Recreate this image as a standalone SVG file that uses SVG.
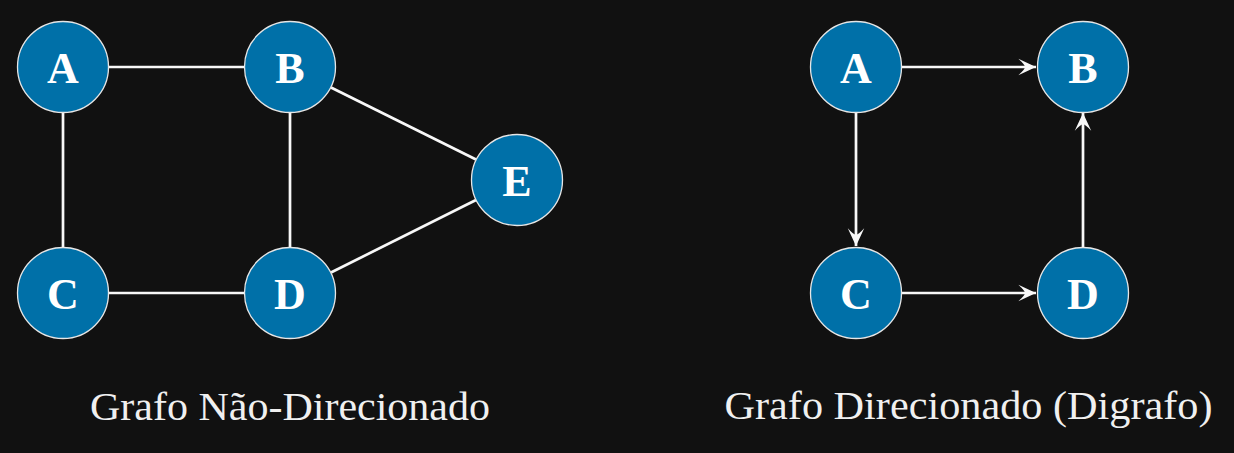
<svg xmlns="http://www.w3.org/2000/svg" width="1234" height="453" viewBox="0 0 1234 453">
<style>
.bg{fill:#111111}
.node circle{fill:#0070a8;stroke:#e6e6e6;stroke-width:1.3}
.node text{font-family:"Liberation Serif","DejaVu Serif",serif;font-weight:bold;font-size:44px;fill:#ffffff;text-anchor:middle}
.edge{stroke:#f8f8f8;stroke-width:2.7;fill:none}
.cap{font-family:"Liberation Serif","DejaVu Serif",serif;font-size:39px;fill:#f0f0f0;text-anchor:middle}
</style>
<defs>
<marker id="arr" markerUnits="userSpaceOnUse" markerWidth="20" markerHeight="20" viewBox="-16 -8 17 16" refX="0" refY="0" orient="auto">
<path d="M0,0 L-15,-7 Q-9,-1.5 -9.5,0 Q-9,1.5 -15,7 Z" fill="#f8f8f8"/>
</marker>
</defs>
<rect class="bg" x="0" y="0" width="1234" height="453"/>
<g id="connectors">
<line class="edge" x1="109" y1="67" x2="244" y2="67"/>
<line class="edge" x1="63" y1="113" x2="63" y2="247"/>
<line class="edge" x1="290" y1="113" x2="290" y2="247"/>
<line class="edge" x1="109" y1="293" x2="244" y2="293"/>
<line class="edge" x1="331" y1="87.5" x2="476" y2="159.5"/>
<line class="edge" x1="331" y1="272.5" x2="476" y2="200"/>
<line class="edge" x1="902" y1="67" x2="1036" y2="67" marker-end="url(#arr)"/>
<line class="edge" x1="856" y1="113" x2="856" y2="246" marker-end="url(#arr)"/>
<line class="edge" x1="902" y1="293" x2="1036" y2="293" marker-end="url(#arr)"/>
<line class="edge" x1="1083" y1="247" x2="1083" y2="113" marker-end="url(#arr)"/>
</g>
<g id="nodeA1" class="node"><circle cx="63" cy="67" r="45.5"/><text x="63" y="82.5">A</text></g>
<g id="nodeB1" class="node"><circle cx="290" cy="67" r="45.5"/><text x="290" y="82.5">B</text></g>
<g id="nodeC1" class="node"><circle cx="63" cy="293" r="45.5"/><text x="63" y="308.5">C</text></g>
<g id="nodeD1" class="node"><circle cx="290" cy="293" r="45.5"/><text x="290" y="308.5">D</text></g>
<g id="nodeE1" class="node"><circle cx="517" cy="180" r="45.5"/><text x="517" y="195.5">E</text></g>
<g id="nodeA2" class="node"><circle cx="856" cy="67" r="45.5"/><text x="856" y="82.5">A</text></g>
<g id="nodeB2" class="node"><circle cx="1083" cy="67" r="45.5"/><text x="1083" y="82.5">B</text></g>
<g id="nodeC2" class="node"><circle cx="856" cy="293" r="45.5"/><text x="856" y="308.5">C</text></g>
<g id="nodeD2" class="node"><circle cx="1083" cy="293" r="45.5"/><text x="1083" y="308.5">D</text></g>
<text class="cap" x="290" y="420" textLength="400" lengthAdjust="spacingAndGlyphs">Grafo Não-Direcionado</text>
<text class="cap" x="968.5" y="418.5" textLength="488" lengthAdjust="spacingAndGlyphs">Grafo Direcionado (Digrafo)</text>
</svg>
